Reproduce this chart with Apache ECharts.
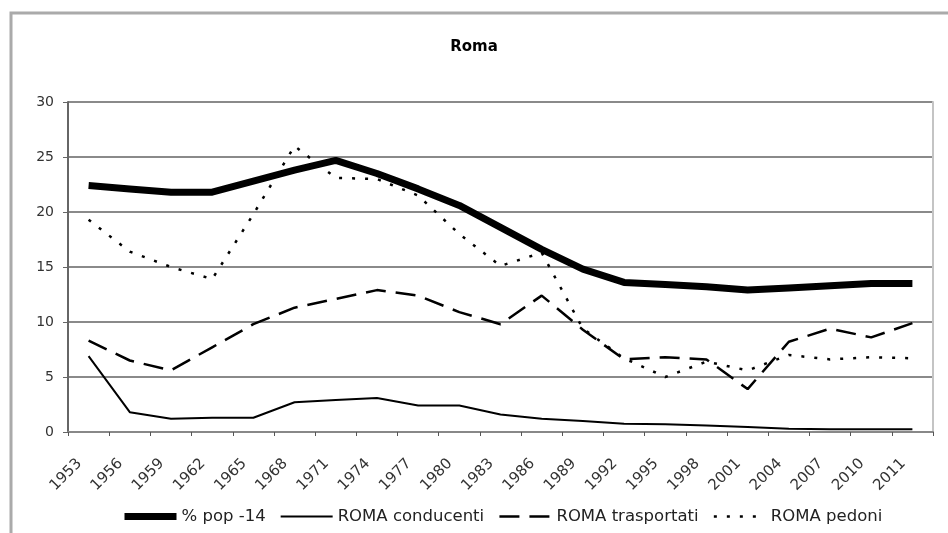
<!DOCTYPE html>
<html>
	<head>
		<title>Roma</title>
		<meta charset="utf-8">
		<style>
html, body {
	width: 100%;
	height: 100%;
	margin: 0;
	background: #fff;
}
#box1 {
	width: 948px;
	height: 533px;
}
		</style>
	</head>
	<body>
		<div id="box1"></div>
	</body>
	<script src="https://cdn.jsdelivr.net/npm/echarts@6/dist/echarts.min.js"></script>
	<script type="text/javascript">
var years = ['1953', '1956', '1959', '1962', '1965', '1968', '1971', '1974', '1977', '1980', '1983',
	'1986', '1989', '1992', '1995', '1998', '2001', '2004', '2007', '2010', '2011'];
var pop14 = [22.4, 22.1, 21.8, 21.8, 22.8, 23.8, 24.7, 23.5, 22.1, 20.6, 18.6,
	16.6, 14.8, 13.6, 13.4, 13.2, 12.9, 13.1, 13.3, 13.5, 13.5];
var conducenti = [6.9, 1.8, 1.2, 1.3, 1.3, 2.7, 2.9, 3.1, 2.4, 2.4, 1.6,
	1.2, 1.0, 0.75, 0.7, 0.6, 0.45, 0.3, 0.25, 0.25, 0.25];
var trasportati = [8.3, 6.5, 5.6, 7.7, 9.8, 11.3, 12.1, 12.9, 12.4, 10.9, 9.8,
	12.4, 9.3, 6.6, 6.8, 6.6, 3.9, 8.2, 9.4, 8.6, 9.9];
var pedoni = [19.3, 16.4, 15.0, 13.9, 19.8, 26.0, 23.1, 23.0, 21.5, 18.0, 15.1,
	16.3, 9.4, 6.7, 5.0, 6.4, 5.6, 7.0, 6.6, 6.8, 6.7];
var yTicks = [0, 5, 10, 15, 20, 25, 30];

var myChart = echarts.init(document.getElementById('box1'));

var font = 'DejaVu Sans';

// stili delle linee (grafico e legenda)
var styles = [
	{ color: '#000', width: 7, type: 'solid' },
	{ color: '#000', width: 2, type: 'solid' },
	{ color: '#000', width: 2.5, type: [20, 10] },
	{ color: '#000', width: 2.5, type: [3, 10] }
];
var names = ['% pop -14', 'ROMA conducenti', 'ROMA trasportati', 'ROMA pedoni'];
var values = [pop14, conducenti, trasportati, pedoni];

var option = {
	backgroundColor: '#fff',
	animation: false,
	title: {
		text: 'Roma',
		left: 'center',
		top: 35,
		textStyle: { fontFamily: font, fontSize: 15, fontWeight: 'bold', color: '#000' }
	},
	graphic: [{
		type: 'rect',
		shape: { x: 11, y: 13, width: 945, height: 530 },
		style: { fill: 'none', stroke: '#aaa', lineWidth: 3 }
	}],
	legend: {
		bottom: 3,
		left: 116,
		itemWidth: 52,
		itemHeight: 10,
		itemGap: 14,
		itemStyle: { opacity: 0 },
		textStyle: { fontFamily: font, fontSize: 16.5, color: '#222' },
		data: names.map(function (n, i) {
			return { name: n, lineStyle: { width: styles[i].width, type: styles[i].type, color: '#000' } };
		})
	},
	grid: { left: 68, right: 15, top: 102, bottom: 101 },
	xAxis: {
		type: 'category',
		data: years,
		boundaryGap: true,
		axisLine: { lineStyle: { color: '#888', width: 2 } },
		axisTick: { show: true, length: 4, lineStyle: { color: '#555' } },
		axisLabel: { rotate: 45, margin: 20, padding: [0, 13, 0, 0], fontFamily: font, fontSize: 15, color: '#333' }
	},
	yAxis: [{
		type: 'value',
		min: yTicks[0],
		max: yTicks[yTicks.length - 1],
		interval: 5,
		axisLine: { show: true, lineStyle: { color: '#666', width: 2 } },
		axisTick: { show: true, length: 5, lineStyle: { color: '#666' } },
		axisLabel: { margin: 14, fontFamily: font, fontSize: 14, color: '#333' },
		splitLine: { lineStyle: { color: '#8a8a8a', width: 2 } }
	}, {
		type: 'value',
		position: 'right',
		min: 0,
		max: 30,
		interval: 5,
		axisLine: { show: true, lineStyle: { color: '#c4c4c4', width: 2 } },
		axisTick: { show: false },
		axisLabel: { show: false },
		splitLine: { show: false }
	}],
	series: names.map(function (n, i) {
		return {
			name: n,
			type: 'line',
			data: values[i],
			symbol: 'none',
			itemStyle: { color: '#000' },
			lineStyle: styles[i]
		};
	})
};

myChart.setOption(option);

window.addEventListener('resize', () => {
	myChart.resize()
})
	</script>
</html>
